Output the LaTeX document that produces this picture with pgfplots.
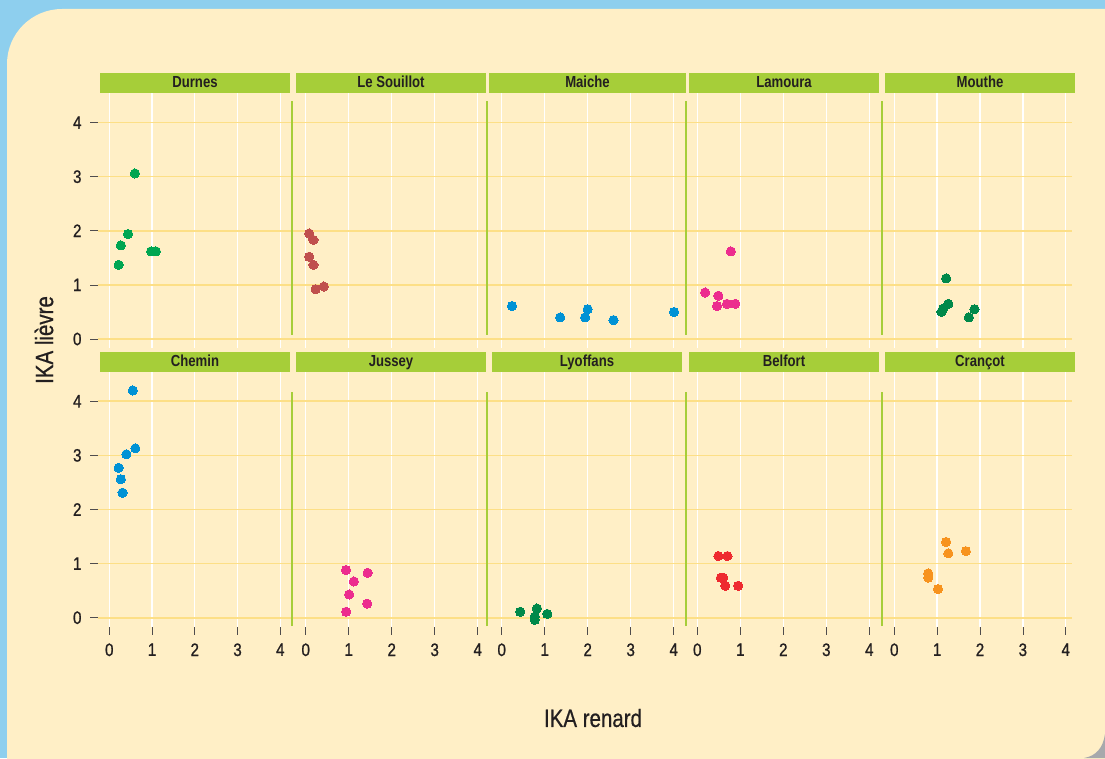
\documentclass[border=0pt]{standalone}
\usepackage{fontspec}
\setmainfont{Liberation Sans}[FakeStretch=0.82]
\newfontfamily\tickfont{Liberation Sans}[FakeStretch=0.84, FakeBold=0.9]
\newfontfamily\labfont{Liberation Sans}[FakeStretch=0.82, FakeBold=0.6]
\usepackage{pgfplots}
\pgfplotsset{compat=1.18}
\definecolor{cream}{HTML}{FFEFC6}
\definecolor{skyblue}{HTML}{8ECFEE}
\definecolor{stripgreen}{HTML}{A6CE39}
\definecolor{gridyellow}{HTML}{FDDF86}
\definecolor{txt}{HTML}{231F20}
\definecolor{shadowgray}{HTML}{A7A9AC}
\definecolor{cGreen}{HTML}{00A651}
\definecolor{cBrown}{HTML}{C0504D}
\definecolor{cBlue}{HTML}{0092D5}
\definecolor{cPink}{HTML}{EC2C8E}
\definecolor{cDark}{HTML}{00894A}
\definecolor{cRed}{HTML}{EE2A2F}
\definecolor{cOrange}{HTML}{F7931E}
\pgfplotsset{
  panel/.style={
    scale only axis, height=255.4pt, ymin=-0.17, ymax=4.55, anchor=south west,
    axis line style={draw=none},
    xtick={0,1,2,3,4}, ytick={0,1,2,3,4},
    xmajorgrids, ymajorgrids,
    x grid style={white, line width=1.4pt},
    y grid style={gridyellow, line width=1.6pt},
    xticklabels={}, yticklabels={},
    xtick style={draw=none}, ytick style={draw=none},
    tick align=outside, major tick length=8pt,
    ticklabel style={font=\tickfont\fontsize{18}{18}\selectfont, text=txt},
    clip=false,
  },
  leftcol/.style={yticklabels={0,1,2,3,4}, ytick style={draw=txt!80, line width=0.7pt},
    yticklabel style={xshift=-5pt}},
  bottomrow/.style={xticklabels={0,1,2,3,4}, xtick style={draw=txt!80, line width=0.7pt},
    xticklabel style={yshift=-5pt}},
  colA/.style={width=194pt, xmin=-0.264, xmax=4.274},
  colB/.style={width=195pt, xmin=-0.319, xmax=4.216},
  colC/.style={width=199pt, xmin=-0.342, xmax=4.286},
  colD/.style={width=196pt, xmin=-0.263, xmax=4.295},
  colE/.style={width=190pt, xmin=-0.287, xmax=4.147},
  pts/.style={only marks, mark=*, mark size=4.6pt, color=#1, mark options={draw=#1, fill=#1, line width=0pt}},
}
\newcommand{\strip}[4]{%
  \fill[stripgreen] (#1,#3) rectangle (#2,#3+20);
  \node[text=txt, font=\bfseries\fontsize{16}{16}\selectfont, anchor=base] at ({(#1+#2)/2},#3+5.5) {#4};}
\begin{document}
\begin{tikzpicture}[x=1pt,y=1pt]
\useasboundingbox (0,0) rectangle (1105,758);
\begin{scope}
\clip (0,0) rectangle (1105,758);
\fill[skyblue] (0,0) rectangle (1105,758);
\fill[cream, rounded corners=55pt] (7,-100) rectangle (1250,749);
\fill[shadowgray] (1105,24) .. controls (1103,10) and (1096,2) .. (1084,0) -- (1105,0) -- cycle;
\end{scope}

% top row
\begin{axis}[panel, colA, leftcol, at={(98pt,409.8pt)}]
\addplot[pts=cGreen] coordinates {(0.60,3.06) (0.44,1.94) (0.27,1.73) (0.22,1.37) (0.98,1.62) (1.09,1.62)};
\end{axis}
\begin{axis}[panel, colB, at={(292pt,409.8pt)}]
\addplot[pts=cBrown] coordinates {(0.08,1.95) (0.18,1.83) (0.08,1.52) (0.18,1.37) (0.23,0.92) (0.42,0.97)};
\end{axis}
\begin{axis}[panel, colC, at={(487pt,409.8pt)}]
\addplot[pts=cBlue] coordinates {(0.24,0.61) (1.36,0.40) (2.00,0.55) (1.94,0.40) (2.60,0.35) (4.01,0.50)};
\end{axis}
\begin{axis}[panel, colD, at={(686pt,409.8pt)}]
\addplot[pts=cPink] coordinates {(0.78,1.62) (0.18,0.86) (0.49,0.80) (0.46,0.61) (0.69,0.65) (0.88,0.65)};
\end{axis}
\begin{axis}[panel, colE, at={(882pt,409.8pt)}]
\addplot[pts=cDark] coordinates {(1.21,1.12) (1.26,0.65) (1.14,0.56) (1.10,0.50) (1.87,0.55) (1.74,0.40)};
\end{axis}

% bottom row
\begin{axis}[panel, colA, leftcol, bottomrow, at={(98pt,131.1pt)}]
\addplot[pts=cBlue] coordinates {(0.55,4.20) (0.61,3.13) (0.40,3.02) (0.22,2.77) (0.27,2.56) (0.31,2.31)};
\end{axis}
\begin{axis}[panel, colB, bottomrow, at={(292pt,131.1pt)}]
\addplot[pts=cPink] coordinates {(0.94,0.88) (1.44,0.83) (1.12,0.67) (1.01,0.43) (1.43,0.26) (0.94,0.11)};
\end{axis}
\begin{axis}[panel, colC, bottomrow, at={(487pt,131.1pt)}]
\addplot[pts=cDark] coordinates {(0.43,0.11) (0.82,0.17) (1.06,0.07) (0.77,0.02) (0.77,-0.04)};
\end{axis}
\begin{axis}[panel, colD, bottomrow, at={(686pt,131.1pt)}]
\addplot[pts=cRed] coordinates {(0.49,1.14) (0.70,1.14) (0.55,0.74) (0.60,0.74) (0.65,0.59) (0.95,0.59)};
\end{axis}
\begin{axis}[panel, colE, bottomrow, at={(882pt,131.1pt)}]
\addplot[pts=cOrange] coordinates {(1.21,1.40) (1.26,1.19) (1.67,1.23) (0.79,0.82) (0.79,0.74) (1.02,0.53)};
\end{axis}

% strips
\strip{100}{290}{665}{Durnes}
\strip{296}{486}{665}{Le Souillot}
\strip{489}{686}{665}{Maiche}
\strip{689}{879}{665}{Lamoura}
\strip{885}{1075}{665}{Mouthe}
\strip{100}{290}{386}{Chemin}
\strip{296}{486}{386}{Jussey}
\strip{492}{682}{386}{Lyoffans}
\strip{689}{879}{386}{Belfort}
\strip{885}{1075}{386}{Crançot}

% separators
\foreach \sx in {292,487,686,882} {
  \draw[stripgreen, line width=2pt] (\sx,423) -- (\sx,657);
  \draw[stripgreen, line width=2pt] (\sx,132) -- (\sx,366);
}

% axis titles
\node[text=txt, font=\labfont\fontsize{25}{25}\selectfont, rotate=90] at (44,418) {IKA lièvre};
\node[text=txt, font=\labfont\fontsize{25}{25}\selectfont] at (593,40) {IKA renard};
\end{tikzpicture}
\end{document}
